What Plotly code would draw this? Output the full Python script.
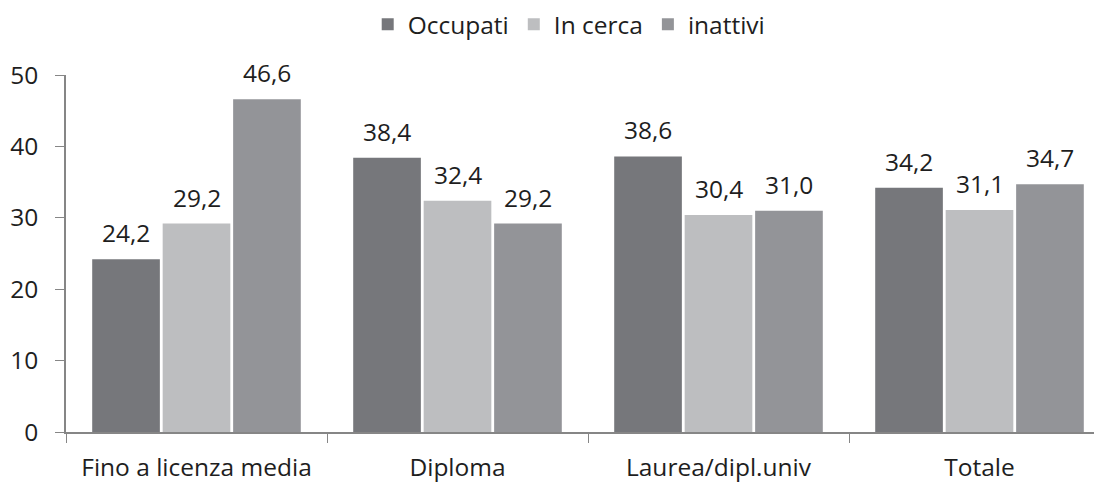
import plotly.graph_objects as go

categories = ["Fino a licenza media", "Diploma", "Laurea/dipl.univ", "Totale"]
occupati = [24.2, 38.4, 38.6, 34.2]
in_cerca = [29.2, 32.4, 30.4, 31.1]
inattivi = [46.6, 29.2, 31.0, 34.7]

series = [
    ("Occupati", occupati, "#76777b"),
    ("In cerca", in_cerca, "#bdbec0"),
    ("inattivi", inattivi, "#939498"),
]

font_family = "Open Sans, Liberation Sans, sans-serif"
text_color = "#1e1e1e"
FS = 24.5

# layout geometry (pixels); page body has an 8px default margin
W, H = 1102, 482
ML, MR, MT, MB = 58, 0, 67, 58
plot_w = W - ML - MR
cat_px = plot_w / len(categories)
bargap, bargroupgap = 0.19, 0.04
slot_px = cat_px * (1 - bargap) / len(series)

fig = go.Figure()
for name, vals, color in series:
    fig.add_trace(go.Bar(
        name=name, x=categories, y=vals,
        marker=dict(color=color, line=dict(width=0)),
        cliponaxis=False,
    ))

annotations = []
for i, (name, vals, color) in enumerate(series):
    for cat, v in zip(categories, vals):
        annotations.append(dict(
            x=cat, y=v, xref="x", yref="y",
            text=f"{v:.1f}".replace(".", ","),
            showarrow=False, yanchor="bottom", xanchor="center",
            xshift=(i - (len(series) - 1) / 2) * slot_px,
            yshift=8,
            font=dict(size=FS, color=text_color, family=font_family),
        ))

fig.update_layout(
    width=W, height=H,
    margin=dict(l=ML, r=MR, t=MT, b=MB, autoexpand=False),
    paper_bgcolor="white", plot_bgcolor="white",
    barmode="group", bargap=bargap, bargroupgap=bargroupgap,
    font=dict(family=font_family, size=FS, color=text_color),
    legend=dict(orientation="h", x=0.482, xanchor="center", y=1.205, yanchor="top",
                yref="paper", font=dict(size=FS), traceorder="normal",
                itemwidth=30),
    showlegend=True,
    annotations=annotations,
)
fig.update_xaxes(range=[-0.5, len(categories) - 0.5], showline=True, linecolor="#868686",
                 linewidth=1.5, ticks="outside", tickson="boundaries", ticklen=9,
                 tickcolor="#868686", tickfont=dict(size=FS), showgrid=False,
                 ticklabelstandoff=13, automargin=False)
fig.update_yaxes(range=[0, 50], dtick=10, showline=True, linecolor="#868686", linewidth=1.5,
                 ticks="outside", ticklen=9, tickcolor="#868686", showgrid=False,
                 zeroline=False, tickfont=dict(size=FS), ticklabelstandoff=12,
                 automargin=False)

fig.write_html("out.html")
